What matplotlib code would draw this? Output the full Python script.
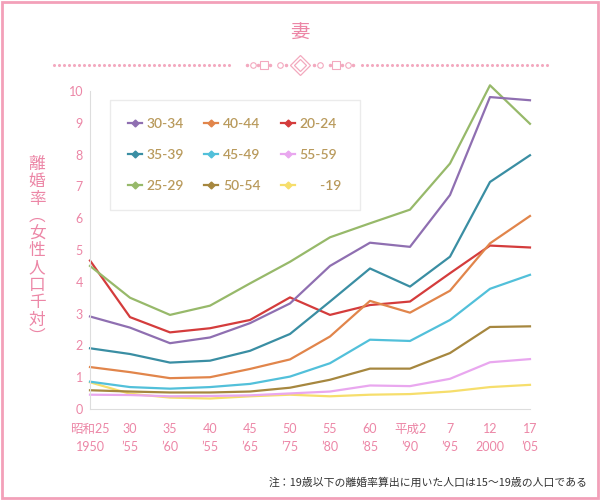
import numpy as np
import matplotlib.pyplot as plt
from matplotlib.lines import Line2D
from matplotlib.patches import Rectangle

plt.rcParams['font.family'] = ['Lato', 'Noto Sans CJK JP', 'DejaVu Sans']

# data
era = ['昭和25', '30', '35', '40', '45', '50', '55', '60', '平成2', '7', '12', '17']
west = ['1950', '’55', '’60', '’55', '’65', '’75', '’80', '’85', '’90', '’95', '2000', '’05']

age_25_29 = [4.50, 3.50, 2.96, 3.25, 3.95, 4.63, 5.40, 5.84, 6.27, 7.72, 10.18, 8.97]
age_30_34 = [2.91, 2.56, 2.07, 2.25, 2.70, 3.32, 4.50, 5.23, 5.10, 6.73, 9.81, 9.71]
age_20_24 = [4.67, 2.89, 2.41, 2.54, 2.80, 3.51, 2.96, 3.27, 3.38, 4.27, 5.14, 5.08]
age_35_39 = [1.91, 1.73, 1.46, 1.52, 1.83, 2.36, 3.38, 4.42, 3.85, 4.79, 7.14, 7.98]
age_40_44 = [1.32, 1.16, 0.97, 1.00, 1.26, 1.56, 2.28, 3.40, 3.03, 3.72, 5.21, 6.07]
age_45_49 = [0.86, 0.69, 0.64, 0.69, 0.79, 1.02, 1.44, 2.18, 2.14, 2.80, 3.78, 4.22]
age_50_54 = [0.59, 0.55, 0.52, 0.52, 0.55, 0.67, 0.92, 1.27, 1.27, 1.76, 2.58, 2.60]
age_55_59 = [0.45, 0.44, 0.40, 0.41, 0.43, 0.49, 0.55, 0.74, 0.72, 0.95, 1.47, 1.57]
age_u19 = [0.84, 0.48, 0.36, 0.33, 0.40, 0.45, 0.40, 0.45, 0.47, 0.55, 0.69, 0.76]

# legend order: column by column
series = [
    ('30-34', age_30_34, '#8f6fb1'),
    ('35-39', age_35_39, '#3a8ea3'),
    ('25-29', age_25_29, '#97b96a'),
    ('40-44', age_40_44, '#e1854b'),
    ('45-49', age_45_49, '#52c0da'),
    ('50-54', age_50_54, '#a6873f'),
    ('20-24', age_20_24, '#d43c3c'),
    ('55-59', age_55_59, '#e9a7ef'),
    ('      -19', age_u19, '#f6de6c'),
]

pink = '#ec86a6'
x = np.arange(len(era))

fig = plt.figure(figsize=(6, 5.01), dpi=100)
ax = fig.add_axes([0.15, 0.1836, 0.7333, 0.6347])

handles = []
for name, vals, col in series[::-1]:
    ax.plot(x, vals, color=col, lw=1.6, clip_on=False)
for name, vals, col in series:
    handles.append(Line2D([], [], color=col, lw=1.6, marker='D', markersize=3.5,
                          label=name))

ax.set_xlim(0, 11)
ax.set_ylim(0, 10)
ax.set_yticks(range(0, 11))
ax.set_xticks(x)
ax.set_xticklabels([a + '\n' + b for a, b in zip(era, west)], linespacing=1.6)
ax.tick_params(length=0, colors=pink, labelsize=9)
ax.tick_params(axis='x', pad=10)
ax.tick_params(axis='y', pad=5)
for s in ['top', 'right']:
    ax.spines[s].set_visible(False)
for s in ['left', 'bottom']:
    ax.spines[s].set_color('#dddddd')

leg = fig.legend(handles=handles, ncol=3, loc='upper left',
                 bbox_to_anchor=(110 / 600, 1 - 100 / 501),
                 fontsize=10, frameon=True, fancybox=False,
                 handlelength=1.0, handletextpad=0.35, columnspacing=1.45,
                 labelspacing=1.35, borderpad=1.3, borderaxespad=0)
leg.get_frame().set_edgecolor('#e6e6e6')
leg.get_frame().set_linewidth(1)
for t in leg.get_texts():
    t.set_color('#b99a5c')
    t.set_fontweight('semibold')

# y label, stacked vertically
fig.text(37 / 600, 1 - 251 / 501, '\n'.join('離婚率︵女性人口千対︶'),
         color=pink, fontsize=12, ha='center', va='center', linespacing=1.02,
         family=['Noto Sans CJK JP'])

fig.text(0.5, 1 - 33 / 501, '妻', color=pink, fontsize=14, ha='center',
         va='center', family=['Noto Sans CJK JP'])

fig.text(588 / 600, 1 - 483 / 501,
         '注：19歳以下の離婚率算出に用いた人口は15〜19歳の人口である',
         fontsize=7.8, ha='right', va='center', color='#333333',
         family=['Noto Sans CJK JP'])

# header ornament
deco = fig.add_axes([0, 0, 1, 1], zorder=-1)
deco.set_xlim(0, 600)
deco.set_ylim(501, 0)
deco.axis('off')
dc = '#f3a9bf'
deco.plot(np.arange(54, 234, 5), [65] * 36, ls='none', marker='o', ms=1.2, color=dc)
deco.plot(np.arange(362, 548, 5), [65] * 38, ls='none', marker='o', ms=1.2, color=dc)
deco.plot([247, 258, 270, 286, 314, 330, 342, 353], [65] * 8, ls='none', marker='o', ms=1.5, color=dc)
deco.plot([252.5, 280, 320, 347.5], [65] * 4, ls='none', marker='o', ms=4, mfc='none', mec=dc, mew=0.8)
deco.plot([264, 336], [65, 65], ls='none', marker='s', ms=5.5, mfc='none', mec=dc, mew=0.8)
deco.plot([300], [65], ls='none', marker='D', ms=10, mfc='none', mec=dc, mew=0.9)
deco.plot([300], [65], ls='none', marker='D', ms=6, mfc='none', mec=dc, mew=0.9)

fig.patches.append(Rectangle((0.003, 0.006), 0.994, 0.99, transform=fig.transFigure,
                             fill=False, edgecolor='#f3a0b9', lw=2))

fig.savefig('out.png', dpi=100)
